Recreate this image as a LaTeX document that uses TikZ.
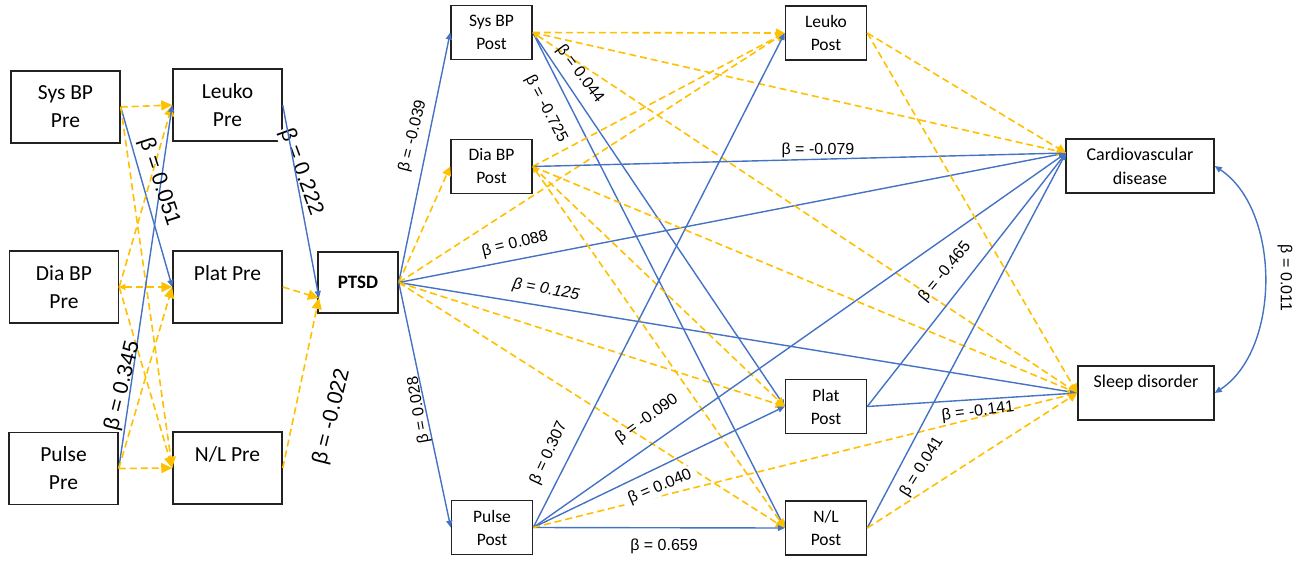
\documentclass[tikz,border=0pt]{standalone}
\usepackage{fontspec}
\setmainfont{Carlito}
\newfontfamily\labelfont{Liberation Sans}
\usetikzlibrary{arrows.meta,calc}

\definecolor{pathblue}{RGB}{68,114,196}
\definecolor{pathgold}{RGB}{255,192,0}
\definecolor{boxline}{RGB}{34,34,34}

\begin{document}
\begin{tikzpicture}[x=1pt,y=-1pt,
  boxbase/.style={draw=boxline,line width=1.5pt,inner sep=0pt,align=center},
  prebox/.style={boxbase,minimum width=109pt,minimum height=72pt,font=\fontsize{21.5}{28}\selectfont},
  postbox/.style={boxbase,minimum width=81pt,minimum height=54pt,font=\fontsize{17.5}{23}\selectfont},
  outbox/.style={boxbase,minimum height=54pt,font=\fontsize{18}{24}\selectfont},
  ptsdbox/.style={boxbase,minimum width=80pt,minimum height=61pt,font=\fontsize{19}{22}\selectfont\bfseries},
  sig/.style={draw=pathblue,line width=1.4pt,-{Triangle[length=7pt,width=6pt]}},
  ns/.style={draw=pathgold,line width=1.6pt,dash pattern=on 7pt off 4pt,-{Triangle[length=9pt,width=9pt]}},
  nsbig/.style={ns,-{Triangle[length=11pt,width=10pt]}},
  backtip/.style={{Triangle[length=6pt,width=6pt]}-{Triangle[length=9pt,width=9pt]}},
  lab/.style={font=\labelfont\fontsize{16}{16}\selectfont,inner sep=1pt},
  biglab/.style={font=\labelfont\fontsize{21.5}{22}\selectfont,inner sep=1pt}]

\useasboundingbox (0,0) rectangle (1300,562);

% ---- pre-event measures
\node[prebox] (sysPre)   at (65.5,107)   {Sys BP\\Pre};
\node[prebox] (diaPre)   at (64,287)     {Dia BP\\Pre};
\node[prebox] (pulsePre) at (63.5,468.5) {Pulse\\Pre};
\node[prebox] (leukoPre) at (227.5,105)  {Leuko\\Pre};
\node[prebox] (platPre)  at (227.5,287)  {Plat Pre\\\mbox{}};
\node[prebox] (nlPre)    at (227.5,468)  {N/L Pre\\\mbox{}};

% ---- mediator
\node[ptsdbox] (ptsd) at (358,282.5) {PTSD};

% ---- post-event measures
\node[postbox] (sysPost)   at (491.5,32.5)  {Sys BP\\Post};
\node[postbox] (diaPost)   at (491.5,166.5) {Dia BP\\Post};
\node[postbox] (pulsePost) at (492,527.5)   {Pulse\\Post};
\node[postbox] (leukoPost) at (826,33)      {Leuko\\Post};
\node[postbox] (platPost)  at (826,406.5)   {Plat\\Post};
\node[postbox] (nlPost)    at (826,528)     {N/L\\Post};

% ---- outcomes
\node[outbox,minimum width=148pt] (cvd)   at (1140,166) {Cardiovascular\\disease};
\node[outbox,minimum width=136pt] (sleep) at (1146,393) {Sleep disorder\\\mbox{}};

\coordinate (ptsdIn) at (319,298);
\coordinate (cvdIn)  at (1066,153);

% label whose white ground hides the corner of the Leuko Pre box
\node[biglab,rotate=-70,fill=white] (l222) at (301,172) {β = 0.222};

% ---- pre measures among themselves
\draw[nsbig] (sysPre.east) -- (leukoPre.west);
\draw[sig] (sysPre.east) -- (platPre.west);
\draw[nsbig] (sysPre.east) -- (nlPre.west);
\draw[nsbig] (diaPre.east) -- (leukoPre.west);
\draw[nsbig,{Triangle[length=6pt,width=6pt]}-{Triangle[length=11pt,width=10pt]}] (diaPre.east) -- (platPre.west);
\draw[nsbig] (diaPre.east) -- (nlPre.west);
\draw[sig] (pulsePre.east) -- (leukoPre.west);
\draw[nsbig] (pulsePre.east) -- (platPre.west);
\draw[nsbig] (pulsePre.east) -- (nlPre.west);

% ---- pre measures to PTSD
\draw[sig] (leukoPre.east) -- (ptsdIn);
\draw[nsbig] (platPre.east) -- (ptsdIn);
\draw[nsbig] (nlPre.east) -- (ptsdIn);

% ---- PTSD to post measures and outcomes
\draw[sig] (ptsd.east) -- (sysPost.west);
\draw[ns] (ptsd.east) -- (diaPost.west);
\draw[ns] (ptsd.east) -- (leukoPost.west);
\draw[sig] (ptsd.east) -- (cvdIn);
\draw[sig] (ptsd.east) -- (sleep.west);
\draw[ns] (ptsd.east) -- (platPost.west);
\draw[ns] (ptsd.east) -- (nlPost.west);
\draw[sig] (ptsd.east) -- (pulsePost.west);

% ---- Sys BP Post
\draw[ns] (sysPost.east) -- (leukoPost.west);
\draw[sig] (sysPost.east) -- (platPost.west);
\draw[sig] (sysPost.east) -- (nlPost.west);
\draw[ns] (sysPost.east) -- (cvdIn);
\draw[ns,backtip] (sysPost.east) -- (sleep.west);

% ---- Dia BP Post
\draw[ns] (diaPost.east) -- (leukoPost.west);
\draw[sig] (diaPost.east) -- (cvdIn);
\draw[ns] (diaPost.east) -- (platPost.west);
\draw[ns,backtip] (diaPost.east) -- (nlPost.west);
\draw[ns] (diaPost.east) -- (sleep.west);

% ---- Pulse Post
\draw[sig] (pulsePost.east) -- (leukoPost.west);
\draw[sig] (pulsePost.east) -- (cvdIn);
\draw[sig] (pulsePost.east) -- (platPost.west);
\draw[sig] (pulsePost.east) -- (nlPost.west);
\draw[ns] (pulsePost.east) -- (sleep.west);

% ---- Leuko, Plat, N/L Post
\draw[ns] (leukoPost.east) -- (cvdIn);
\draw[ns] (leukoPost.east) -- (sleep.west);
\draw[sig] (platPost.east) -- (cvdIn);
\draw[sig] (platPost.east) -- (sleep.west);
\draw[sig] (nlPost.east) -- (cvdIn);
\draw[ns] (nlPost.east) -- (sleep.west);

% ---- covariance of the outcomes
\draw[draw=pathblue,line width=1.4pt,{Triangle[length=7pt,width=6pt]}-{Triangle[length=7pt,width=6pt]}]
  (cvd.east) .. controls (1281,210) and (1281,350) .. (sleep.east);

% ---- coefficients
\node[biglab,rotate=-72] (l051) at (159,182) {β = 0.051};
\node[biglab,rotate=76]  (l345) at (123,386) {β = 0.345};
\node[biglab,rotate=76]  (l022) at (332,417) {β = -0.022};
\node[lab,rotate=76]   (l039) at (413,136) {β = -0.039};
\node[lab,rotate=14]   (l088) at (515,244) {β = 0.088};
\node[lab,rotate=-10,font=\labelfont\itshape\fontsize{16}{16}\selectfont] (l125) at (546,290) {β = 0.125};
\node[lab,rotate=100]  (l028) at (419,410) {β = 0.028};
\node[lab,rotate=-53]  (l044) at (580,74)  {β = 0.044};
\node[lab,rotate=-62]  (l725) at (546,109) {β = -0.725};
\node[lab]             (l079) at (818,150) {β = -0.079};
\node[lab,rotate=65]   (l307) at (549,453) {β = 0.307};
\node[lab,rotate=36]   (l090) at (647,419) {β = -0.090};
\node[lab,rotate=23,fill=white,inner xsep=6pt] (l040) at (660,487) {β = 0.040};
\node[lab]             (l659) at (664,546) {β = 0.659};
\node[lab,rotate=51]   (l465) at (945,272) {β = -0.465};
\node[lab,rotate=7]    (l141) at (978,412) {β = -0.141};
\node[lab,rotate=58]   (l041) at (922,467) {β = 0.041};
\node[lab,rotate=-90]  (l011) at (1285,278) {β = 0.011};

\end{tikzpicture}
\end{document}
